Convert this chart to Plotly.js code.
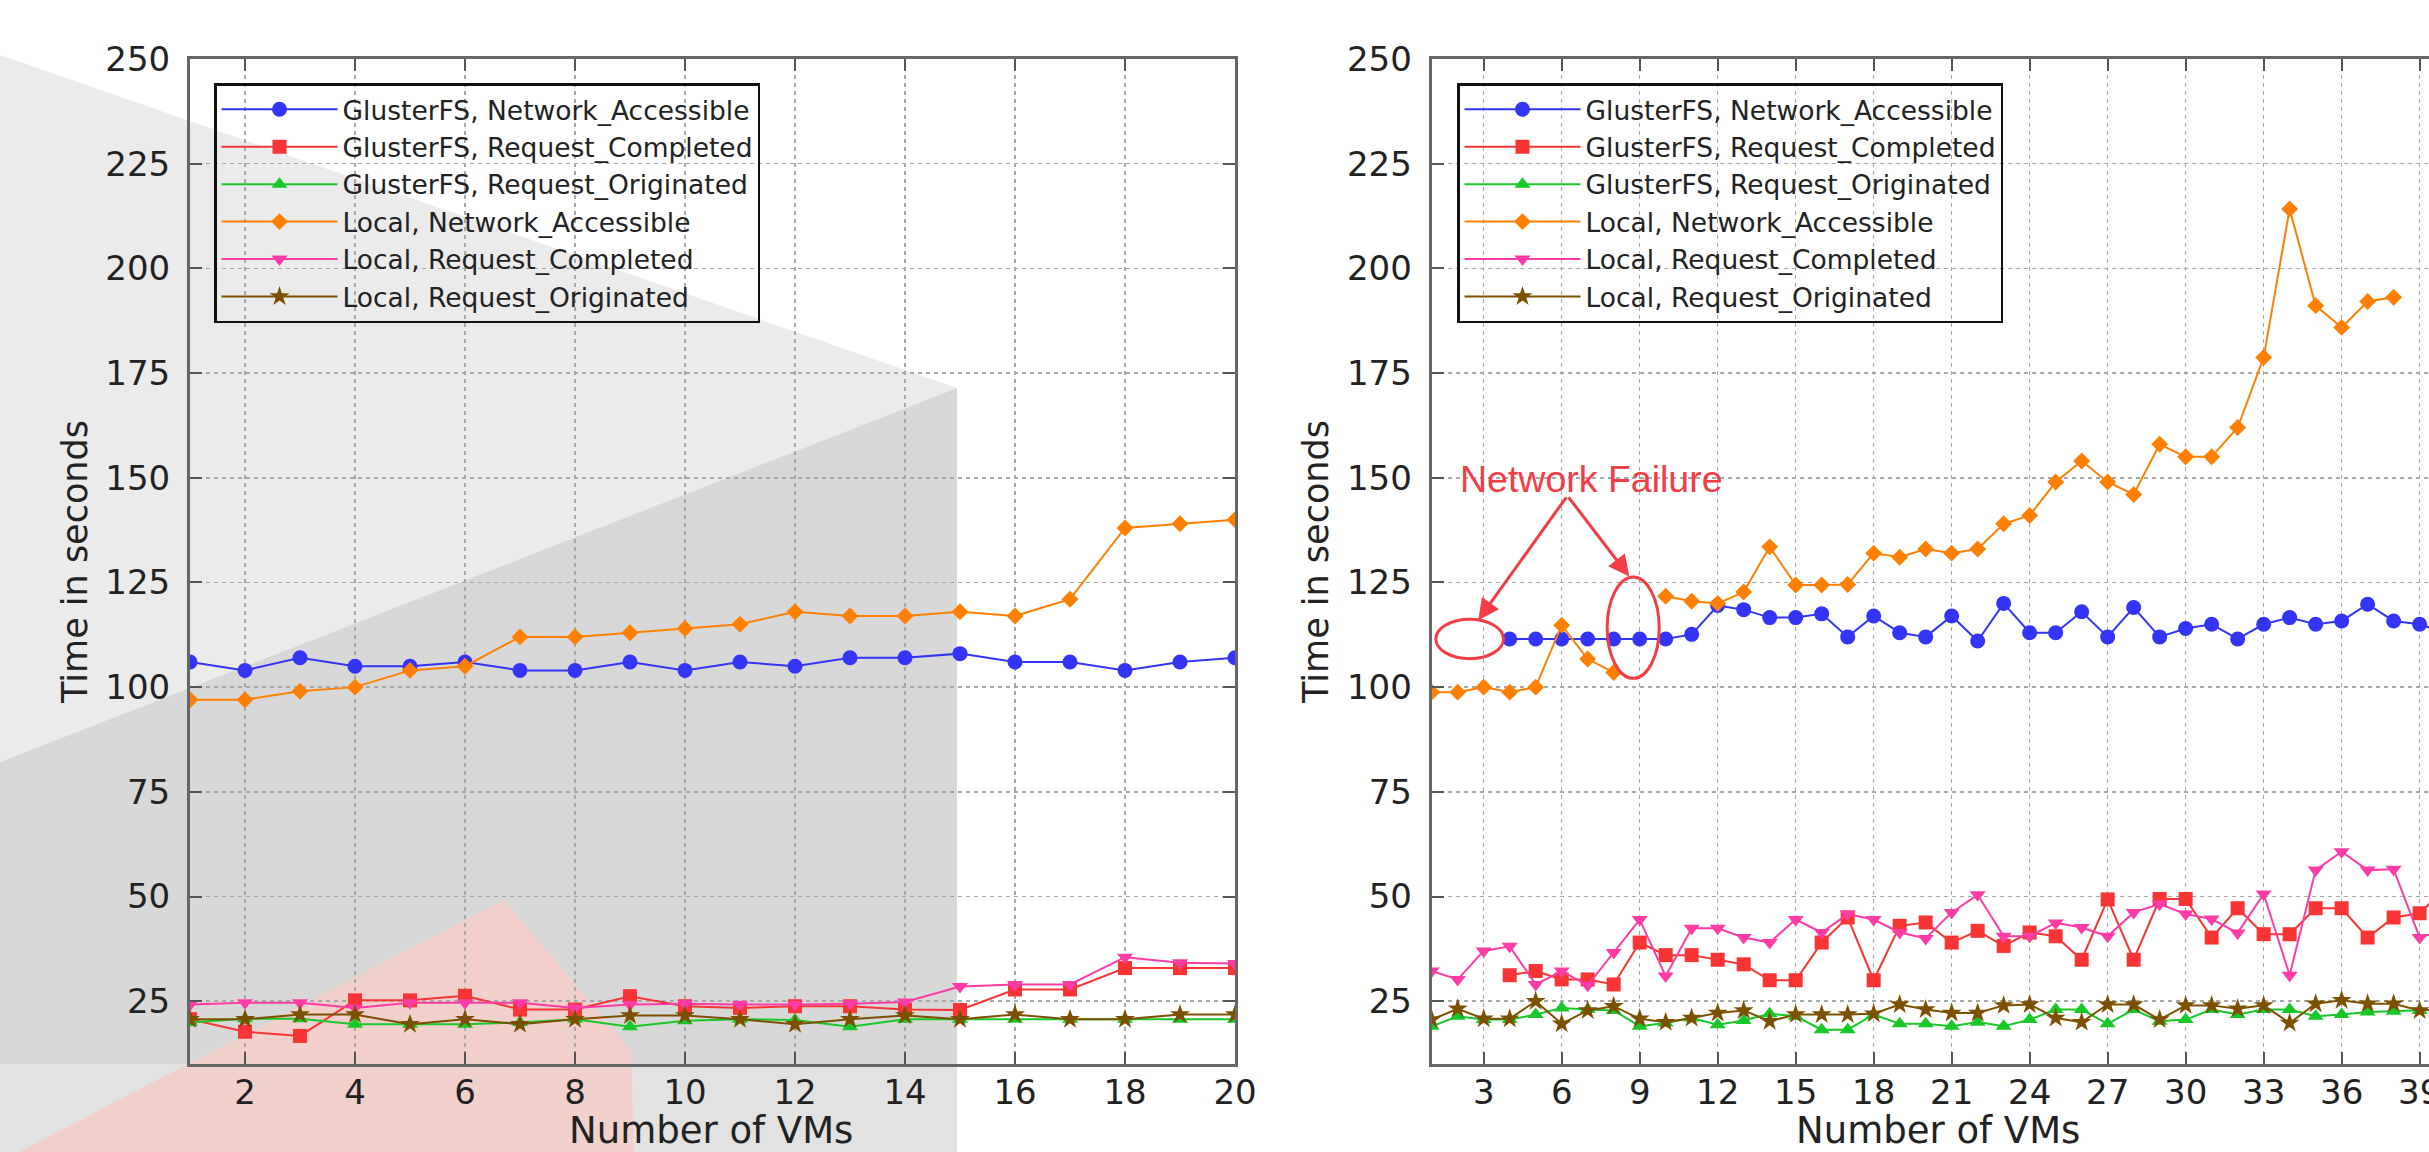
<!DOCTYPE html>
<html>
<head>
<meta charset="utf-8">
<script src="https://cdn.plot.ly/plotly-3.0.1.min.js"></script>
<style>
html,body{margin:0;padding:0;background:#ffffff;}
#chart{width:2429px;height:1152px;}
</style>
</head>
<body>
<div id="chart"></div>
<script>
// ---------------- DATA ----------------
const seriesNames = [
  'GlusterFS, Network_Accessible',
  'GlusterFS, Request_Completed',
  'GlusterFS, Request_Originated',
  'Local, Network_Accessible',
  'Local, Request_Completed',
  'Local, Request_Originated'
];

const xLeft = [1,2,3,4,5,6,7,8,9,10,11,12,13,14,15,16,17,18,19,20];
const leftGlusterNetworkAccessible = [106,104,107,105,105,106,104,104,106,104,106,105,107,107,108,106,106,104,106,107];
const leftGlusterRequestCompleted  = [20.7,17.7,16.7,25.2,25.2,26.3,23,23,26.2,23.8,23.4,23.8,23.8,23,22.9,27.8,27.8,32.9,32.9,32.9];
const leftGlusterRequestOriginated = [19.9,20.8,20.8,19.5,19.5,19.5,19.9,20.7,18.9,20.3,20.7,20.5,18.9,20.7,20.7,20.7,20.7,20.7,20.7,20.7];
const leftLocalNetworkAccessible   = [97,97,99,100,104,105,112,112,113,114,115,118,117,117,118,117,121,138,139,140];
const leftLocalRequestCompleted    = [24.2,24.6,24.6,23.4,24.6,24.6,24.6,23.4,24.2,24.4,24.2,24.2,24.4,24.8,28.5,29,29,35.5,34.2,34];
const leftLocalRequestOriginated   = [20.7,20.7,21.8,21.8,19.5,20.7,19.5,20.7,21.6,21.6,20.7,19.5,20.7,21.6,20.7,21.8,20.7,20.7,21.8,21.8];

const xRight = [1,2,3,4,5,6,7,8,9,10,11,12,13,14,15,16,17,18,19,20,21,22,23,24,25,26,27,28,29,30,31,32,33,34,35,36,37,38,39,40];
const rightGlusterNetworkAccessible = [null,null,null,111.5,111.5,111.5,111.5,111.5,111.5,111.5,112.6,119.5,118.5,116.6,116.6,117.5,112,117,113,112,117,111,120,113,113,118,112,119,112,114,115,111.5,115,116.6,115,115.8,119.8,115.8,115,113];
const rightGlusterRequestCompleted  = [null,null,null,31.2,32.2,30.2,30.2,29,39,36,36,34.9,33.8,30,30,39,45,30,43,43.8,39,41.8,38.2,41.4,40.5,34.9,49.3,34.9,49.4,49.4,40.2,47.2,41,41,47.2,47.2,40.2,45,46,52];
const rightGlusterRequestOriginated = [19,21.4,20.6,20.6,21.8,23.4,23,22.8,19,19.8,21,19.4,20.4,22,21.4,18.2,18.2,21.8,19.6,19.6,19,20,19,20.6,23,23,19.6,23,20.2,20.6,23,21.8,23,23,21.4,21.8,22.4,22.6,22.8,23];
const rightLocalNetworkAccessible   = [98.8,98.8,100,98.8,100,114.8,106.7,103.5,null,121.7,120.5,120,122.7,133.5,124.4,124.4,124.5,132,131,133,132,133,139,141,149,154,149,146,158,155,155,162,178.7,214.2,191.1,185.9,192.1,193.1,null,null];
const rightLocalRequestCompleted    = [32.2,30.2,37,38.1,29,32.2,28.8,36.6,44.5,31,42.4,42.4,40.2,39,44.5,41.4,45.8,44.5,41.4,40,46.2,50.4,40.5,40.5,43.7,42.6,40.5,46.2,48.2,45.8,44.6,41.3,50.6,31.2,56.3,60.7,56.3,56.5,40.2,42];
const rightLocalRequestOriginated   = [20.6,23.2,20.8,20.8,25,19.6,22.8,23.8,20.8,20,21,22.2,22.8,20.2,21.8,21.8,21.8,22,24.2,23,22.2,22.2,24,24.2,21,20,24.2,24.2,20.6,24,24,23.2,24,19.8,24.4,25.2,24.4,24.4,22.8,23];

const yTickValues = [25,50,75,100,125,150,175,200,225,250];
const xTickLeft  = [2,4,6,8,10,12,14,16,18,20];
const xTickRight = [3,6,9,12,15,18,21,24,27,30,33,36,39];
const annotationText = 'Network Failure';
const xTitleText = 'Number of VMs';
const yTitleText = 'Time in seconds';

// ---------------- STYLE ----------------
const W = 2429, H = 1152;
const styles = [
  {color:'#3434f6', symbol:'circle',        size:15},
  {color:'#f83434', symbol:'square',        size:14},
  {color:'#18c828', symbol:'triangle-up',   size:14},
  {color:'#ff8000', symbol:'diamond',       size:13},
  {color:'#ff3ca5', symbol:'triangle-down', size:14},
  {color:'#7d5000', symbol:'star',          size:15}
];
const leftSeries  = [leftGlusterNetworkAccessible,leftGlusterRequestCompleted,leftGlusterRequestOriginated,leftLocalNetworkAccessible,leftLocalRequestCompleted,leftLocalRequestOriginated];
const rightSeries = [rightGlusterNetworkAccessible,rightGlusterRequestCompleted,rightGlusterRequestOriginated,rightLocalNetworkAccessible,rightLocalRequestCompleted,rightLocalRequestOriginated];

const traces = [];
function addPanel(xs, seriesList, xa, ya, lg){
  seriesList.forEach((ys,i)=>{
    traces.push({
      type:'scatter', mode:'lines+markers', x:xs, y:ys, name:seriesNames[i],
      xaxis:xa, yaxis:ya, legend:lg, connectgaps:false, cliponaxis:true,
      line:{color:styles[i].color, width:2},
      marker:{color:styles[i].color, symbol:styles[i].symbol, size:styles[i].size, line:{width:0}}
    });
  });
}
addPanel(xLeft, leftSeries, 'x', 'y', 'legend');
addPanel(xRight, rightSeries, 'x2', 'y2', 'legend2');

const px = v => v / W;
const py = v => 1 - v / H;
function poly(points, color){
  const d = points.map((p,k)=>(k?'L':'M')+px(p[0]).toFixed(5)+','+py(p[1]).toFixed(5)).join(' ')+' Z';
  return {type:'path', xref:'paper', yref:'paper', path:d, fillcolor:color, line:{width:0}, layer:'below'};
}
// soft photographic backdrop seen behind the left panel
const bgShapes = [
  poly([[0,55],[957,388],[0,762]], '#ebebeb'),
  poly([[0,762],[957,388],[957,1064],[0,1064]], '#d8d8d8'),
  poly([[0,1064],[957,1064],[957,1152],[0,1152]], '#e2e2e2'),
  poly([[504,900],[631,1050],[634,1152],[19,1152]], '#f2d1cc')
];

const red = '#f23c46';
const failShapes = [
  {type:'circle', xref:'x2', yref:'y2', x0:1.16, x1:3.76, y0:106.8, y1:116.2, line:{color:red, width:3}, layer:'above'},
  {type:'circle', xref:'x2', yref:'y2', x0:7.75, x1:9.75, y0:102.1, y1:126.3, line:{color:red, width:3}, layer:'above'}
];

const tickFont = {family:'DejaVu Sans', size:34, color:'#222'};
const titleFont = {family:'DejaVu Sans', size:35, color:'#222'};
const xTitleFont = {family:'DejaVu Sans', size:37, color:'#222'};
const axisCommon = {
  showline:true, linecolor:'#666', linewidth:3,
  ticks:'inside', ticklen:12, tickwidth:2, tickcolor:'#555',
  showgrid:true, gridcolor:'#a8a8a8', gridwidth:1.5, griddash:'4px,4px',
  zeroline:false, tickfont:tickFont, ticklabeloverflow:'allow'
};
const yDomain = [1-1064/H, 1-59/H];
const legendCommon = {xanchor:'left', yanchor:'top', bgcolor:'rgba(0,0,0,0)', bordercolor:'#111', borderwidth:2.5,
  font:{family:'DejaVu Sans', size:26.5, color:'#222'}, itemwidth:116, tracegroupgap:0};

const layout = {
  width:W, height:H,
  margin:{l:0,r:0,t:0,b:0,pad:0},
  paper_bgcolor:'#ffffff', plot_bgcolor:'rgba(0,0,0,0)',
  showlegend:true,
  xaxis:Object.assign({}, axisCommon, {domain:[px(190), px(1235)], range:[1,20], tickvals:xTickLeft, mirror:'ticks', anchor:'y', ticklabelstandoff:-4}),
  yaxis:Object.assign({}, axisCommon, {domain:yDomain, range:[10,250], tickvals:yTickValues, mirror:'ticks', anchor:'x', ticklabelstandoff:10,
    title:{text:yTitleText, font:titleFont, standoff:8}}),
  xaxis2:Object.assign({}, axisCommon, {domain:[px(1431.7), 1], range:[1,39.36], tickvals:xTickRight, mirror:'ticks', anchor:'y2', ticklabelstandoff:-4}),
  yaxis2:Object.assign({}, axisCommon, {domain:yDomain, range:[10,250], tickvals:yTickValues, mirror:false, anchor:'x2', ticklabelstandoff:10,
    title:{text:yTitleText, font:titleFont, standoff:8}}),
  legend:Object.assign({}, legendCommon, {x:px(214), y:py(83)}),
  legend2:Object.assign({}, legendCommon, {x:px(1457), y:py(83)}),
  shapes: bgShapes.concat(failShapes),
  annotations:[
    {xref:'paper', yref:'paper', x:px(711), y:py(1130), text:xTitleText, showarrow:false,
     font:xTitleFont, xanchor:'center', yanchor:'middle'},
    {xref:'paper', yref:'paper', x:px(1938), y:py(1130), text:xTitleText, showarrow:false,
     font:xTitleFont, xanchor:'center', yanchor:'middle'},
    {xref:'x2', yref:'y2', x:7.13, y:149.7, text:annotationText, showarrow:false,
     font:{family:'Liberation Sans', size:37.5, color:red}, xanchor:'center', yanchor:'middle'},
    {xref:'x2', yref:'y2', x:2.79, y:116.0, axref:'x2', ayref:'y2', ax:6.22, ay:145.7, text:'', showarrow:true,
     arrowhead:2, arrowsize:1.4, arrowwidth:3, arrowcolor:red},
    {xref:'x2', yref:'y2', x:8.6, y:126.4, axref:'x2', ayref:'y2', ax:6.22, ay:145.7, text:'', showarrow:true,
     arrowhead:2, arrowsize:1.4, arrowwidth:3, arrowcolor:red}
  ]
};

Plotly.newPlot('chart', traces, layout, {staticPlot:true, displayModeBar:false});
</script>
</body>
</html>
